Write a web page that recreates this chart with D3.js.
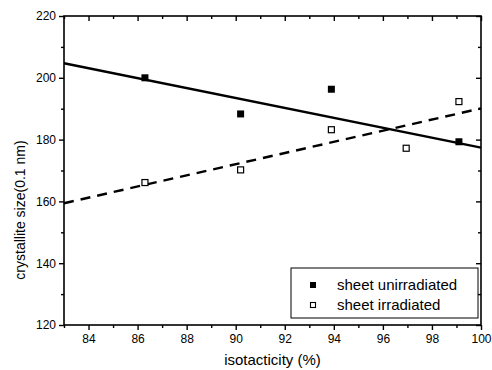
<!DOCTYPE html>
<html><head><meta charset="utf-8">
<script src="https://cdn.jsdelivr.net/npm/d3@7"></script>
<style>body{margin:0;background:#fff;} svg{display:block;font-family:"Liberation Sans",Arial,sans-serif;}</style>
</head><body>
<svg id="c" width="492" height="370"></svg>
<script>
const unirrX = [86.3, 90.2, 93.9, 99.1];
const unirrY = [200, 188.3, 196.3, 179.3];
const irrX = [86.3, 90.2, 93.9, 96.95, 99.1];
const irrY = [166.1, 170.2, 183.2, 177.2, 192.3];
const fitX = [83, 100];
const unirrFitY = [204.7, 177.4];
const irrFitY = [159.4, 190.1];
const xTicks = [84, 86, 88, 90, 92, 94, 96, 98, 100];
const yTicks = [120, 140, 160, 180, 200, 220];
const legendLabels = ["sheet unirradiated", "sheet irradiated"];
const xTitle = "isotacticity (%)";
const yTitle = "crystallite size(0.1 nm)";

const L = 64, R = 481, T = 16, B = 325;
const svg = d3.select("#c");
const x = d3.scaleLinear().domain([83, 100]).range([L, R]);
const y = d3.scaleLinear().domain([120, 220]).range([B, T]);

const minorX = d3.range(83, 101, 1).filter(v => v % 2 === 1);
const minorY = d3.range(130, 220, 20);

// frame
svg.append("rect").attr("x", L).attr("y", T).attr("width", R - L).attr("height", B - T)
  .attr("fill", "none").attr("stroke", "#000").attr("stroke-width", 1.6);

// bottom axis (outward ticks)
const bx = svg.append("g").attr("transform", `translate(0,${B})`)
  .call(d3.axisBottom(x).tickValues(xTicks).tickSize(5).tickPadding(4).tickFormat(d3.format("d")));
svg.append("g").attr("transform", `translate(0,${B})`)
  .call(d3.axisBottom(x).tickValues(minorX).tickSize(3).tickFormat(""));
// left axis
svg.append("g").attr("transform", `translate(${L},0)`)
  .call(d3.axisLeft(y).tickValues(yTicks).tickSize(5).tickPadding(3).tickFormat(d3.format("d")));
svg.append("g").attr("transform", `translate(${L},0)`)
  .call(d3.axisLeft(y).tickValues(minorY).tickSize(3).tickFormat(""));
// top axis (inward)
svg.append("g").attr("transform", `translate(0,${T})`)
  .call(d3.axisBottom(x).tickValues(xTicks).tickSize(5).tickFormat(""));
svg.append("g").attr("transform", `translate(0,${T})`)
  .call(d3.axisBottom(x).tickValues(minorX).tickSize(3).tickFormat(""));
// right axis (inward)
svg.append("g").attr("transform", `translate(${R},0)`)
  .call(d3.axisLeft(y).tickValues(yTicks).tickSize(5).tickFormat(""));
svg.append("g").attr("transform", `translate(${R},0)`)
  .call(d3.axisLeft(y).tickValues(minorY).tickSize(3).tickFormat(""));

svg.selectAll(".domain").remove();
svg.selectAll(".tick line").attr("stroke", "#000").attr("stroke-width", 1.4);
svg.selectAll(".tick text").attr("fill", "#000").attr("font-size", 12).attr("font-family", "Liberation Sans, Arial, sans-serif");

// fit lines
const line = d3.line().x(d => x(d[0])).y(d => y(d[1]));
svg.append("path").datum(fitX.map((v, i) => [v, unirrFitY[i]])).attr("d", line)
  .attr("fill", "none").attr("stroke", "#000").attr("stroke-width", 2.4);
svg.append("path").datum(fitX.map((v, i) => [v, irrFitY[i]])).attr("d", line)
  .attr("fill", "none").attr("stroke", "#000").attr("stroke-width", 2.4).attr("stroke-dasharray", "10,7");

// markers
const s = 7;
svg.selectAll(".u").data(unirrX.map((v, i) => [v, unirrY[i]])).enter().append("rect")
  .attr("x", d => x(d[0]) - s / 2).attr("y", d => y(d[1]) - s / 2).attr("width", s).attr("height", s).attr("fill", "#000");
const so = 6;
svg.selectAll(".i").data(irrX.map((v, i) => [v, irrY[i]])).enter().append("rect")
  .attr("x", d => x(d[0]) - so / 2).attr("y", d => y(d[1]) - so / 2).attr("width", so).attr("height", so)
  .attr("fill", "#fff").attr("stroke", "#000").attr("stroke-width", 1.2);

// legend
svg.append("rect").attr("x", 291).attr("y", 268).attr("width", 187).attr("height", 50)
  .attr("fill", "#fff").attr("stroke", "#000").attr("stroke-width", 1);
svg.append("rect").attr("x", 313 - 3).attr("y", 285 - 3).attr("width", 6).attr("height", 6).attr("fill", "#000");
svg.append("rect").attr("x", 313 - 2.5).attr("y", 305 - 2.5).attr("width", 5).attr("height", 5)
  .attr("fill", "#fff").attr("stroke", "#000").attr("stroke-width", 1.1);
svg.selectAll(".lt").data(legendLabels).enter().append("text")
  .attr("x", 337).attr("y", (d, i) => 290 + i * 20).attr("font-size", 15).text(d => d);

// axis titles
svg.append("text").attr("x", (L + R) / 2).attr("y", 365).attr("text-anchor", "middle")
  .attr("font-size", 15).text(xTitle);
svg.append("text").attr("transform", `translate(25,210) rotate(-90)`).attr("text-anchor", "middle")
  .attr("font-size", 14).text(yTitle);
</script>
</body></html>
